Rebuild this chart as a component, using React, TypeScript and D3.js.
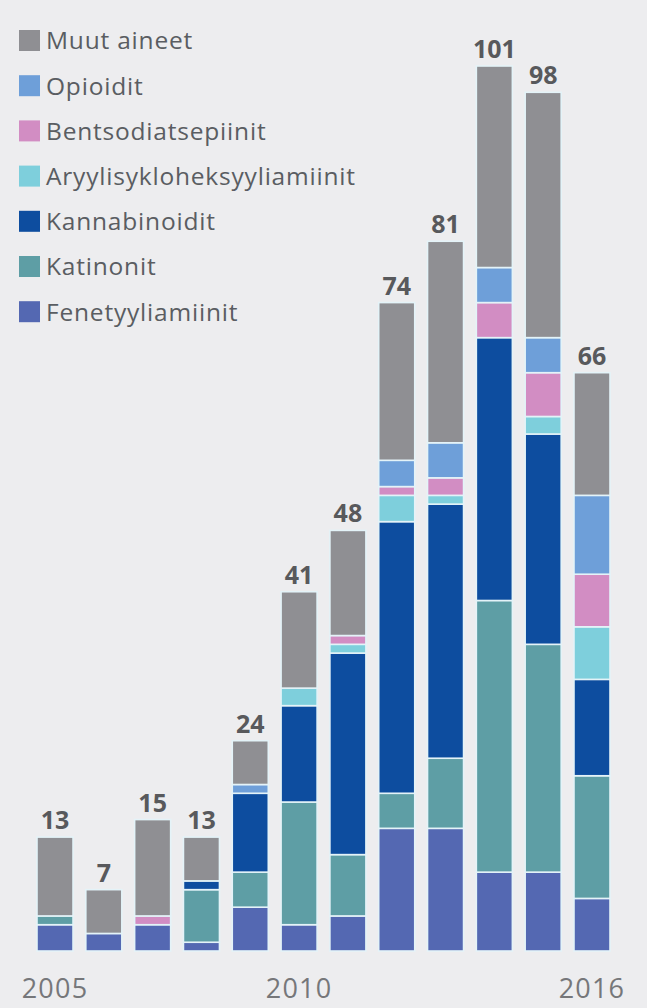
import React from "react";
import * as d3 from "d3";

const years = ["2005","2006","2007","2008","2009","2010","2011","2012","2013","2014","2015","2016"];
const yearLabels = ["2005", "2010", "2016"];
const seriesNames = ["Fenetyyliamiinit","Katinonit","Kannabinoidit","Aryylisykloheksyyliamiinit","Bentsodiatsepiinit","Opioidit","Muut aineet"];
const fenetyyliamiinit = [3,2,3,1,5,3,4,14,14,9,9,6];
const katinonit = [1,0,0,6,4,14,7,4,8,31,26,14];
const kannabinoidit = [0,0,0,1,9,11,23,31,29,30,24,11];
const aryyli = [0,0,0,0,0,2,1,3,1,0,2,6];
const bentso = [0,0,1,0,0,0,1,1,2,4,5,6];
const opioidit = [0,0,0,0,1,0,0,3,4,4,4,9];
const muut = [9,5,11,5,5,11,12,18,23,23,28,14];
const colors = ["#5468b2","#5e9ea5","#0d4d9f","#7ecfdc","#d28dc3","#6e9fd9","#8f8f93"];

const values = [fenetyyliamiinit, katinonit, kannabinoidit, aryyli, bentso, opioidit, muut];

export default function App() {
  const W = 647, H = 1008;
  const table = years.map((y, i) => {
    const row: any = { year: y };
    seriesNames.forEach((s, k) => (row[s] = values[k][i]));
    return row;
  });
  const stack = d3.stack().keys(seriesNames)(table as any);
  const totals = years.map((_, i) => values.reduce((a, v) => a + v[i], 0));
  const x = d3.scaleBand().domain(years).range([30.6, 616.4]).paddingInner(0.262).paddingOuter(0.131);
  const y = d3.scaleLinear().domain([0, 101]).range([951, 66]);
  const legendOrder = [...seriesNames].reverse();
  const legendColors = [...colors].reverse();

  return (
    <svg width={W} height={H} style={{ position: "absolute", left: 0, top: 0, background: "#ededef" }}
      fontFamily="'Open Sans', sans-serif">
      <rect x={0} y={0} width={W} height={H} fill="#ededef" />
      {legendOrder.map((name, i) => (
        <g key={name} transform={`translate(0, ${40.5 + i * 45.2})`}>
          <rect x={19} y={-10.5} width={21} height={21} fill={legendColors[i]} />
          <text x={46} y={0} dy="0.36em" fontSize={24.5} letterSpacing={0.8} fill="#5a5d62">{name}</text>
        </g>
      ))}
      {stack.map((layer, k) => (
        <g key={layer.key} fill={colors[k]}>
          {layer.map((d, i) => d[1] - d[0] > 0 ? (
            <rect key={i} x={x(years[i])!} y={y(d[1])} width={x.bandwidth()} height={y(d[0]) - y(d[1])}
              stroke="#e4f3f8" strokeWidth={1.6} />
          ) : null)}
        </g>
      ))}
      {totals.map((t, i) => (
        <text key={i} x={x(years[i])! + x.bandwidth() / 2} y={y(t) - 8} textAnchor="middle"
          fontSize={25} fontWeight={700} fill="#58595c">{t}</text>
      ))}
      {yearLabels.map((yl) => (
        <text key={yl} x={x(yl)! + x.bandwidth() / 2} y={998} textAnchor="middle" fontSize={27} letterSpacing={1.2} fill="#76777a">{yl}</text>
      ))}
    </svg>
  );
}
